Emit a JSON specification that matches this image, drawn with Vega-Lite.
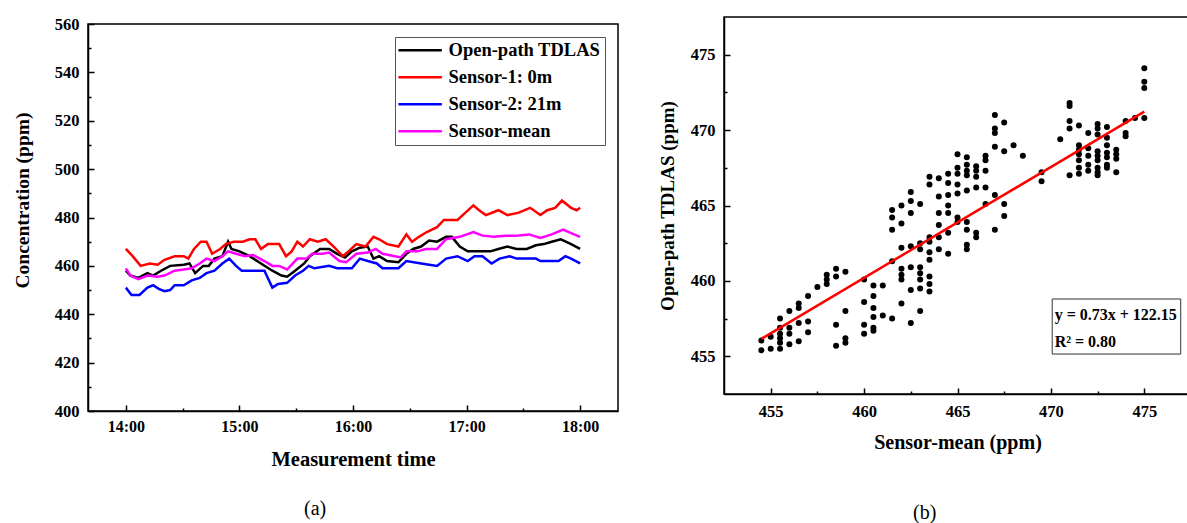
{
  "$schema": "https://vega.github.io/schema/vega-lite/v6.json",
  "background": "white",
  "padding": {"left": 11, "top": 15, "right": 0, "bottom": 0},
  "config": {
    "font": "Liberation Serif",
    "view": {"stroke": "black", "strokeWidth": 1.5},
    "axis": {
      "grid": false,
      "domainColor": "black", "domainWidth": 1.5,
      "tickColor": "black", "tickWidth": 1.5,
      "labelFont": "Liberation Serif", "labelFontWeight": "bold", "labelColor": "black",
      "titleFont": "Liberation Serif", "titleFontWeight": "bold", "titleColor": "black"
    }
  },
  "columns": 2,
  "align": "none",
  "spacing": 38,
  "resolve": {"legend": {"color": "independent"}, "scale": {"color": "independent"}},
  "concat": [
    {
      "spacing": -3,
      "resolve": {"legend": {"color": "independent"}},
      "vconcat": [
        {
          "width": 530,
          "height": 1,
          "view": {"fill": "white", "stroke": null},
          "data": {"values": []},
          "mark": {"type": "rect", "opacity": 0},
          "encoding": {}
        },
        {
          "width": 530,
          "height": 387,
          "title": {"text": "(a)", "orient": "bottom", "anchor": "middle", "frame": "bounds", "offset": 29, "fontSize": 20, "fontWeight": "normal", "font": "Liberation Serif", "color": "black"},
          "data": {"values": [
            {"series": "Open-path TDLAS", "hour": 14.00, "ppm": 458}, {"series": "Open-path TDLAS", "hour": 14.04, "ppm": 456},
            {"series": "Open-path TDLAS", "hour": 14.11, "ppm": 455}, {"series": "Open-path TDLAS", "hour": 14.19, "ppm": 457},
            {"series": "Open-path TDLAS", "hour": 14.24, "ppm": 456}, {"series": "Open-path TDLAS", "hour": 14.31, "ppm": 458},
            {"series": "Open-path TDLAS", "hour": 14.39, "ppm": 460}, {"series": "Open-path TDLAS", "hour": 14.51, "ppm": 460.5},
            {"series": "Open-path TDLAS", "hour": 14.56, "ppm": 461}, {"series": "Open-path TDLAS", "hour": 14.61, "ppm": 457},
            {"series": "Open-path TDLAS", "hour": 14.68, "ppm": 460}, {"series": "Open-path TDLAS", "hour": 14.73, "ppm": 460},
            {"series": "Open-path TDLAS", "hour": 14.78, "ppm": 463}, {"series": "Open-path TDLAS", "hour": 14.85, "ppm": 464},
            {"series": "Open-path TDLAS", "hour": 14.90, "ppm": 470}, {"series": "Open-path TDLAS", "hour": 14.93, "ppm": 467},
            {"series": "Open-path TDLAS", "hour": 15.00, "ppm": 466}, {"series": "Open-path TDLAS", "hour": 15.09, "ppm": 464},
            {"series": "Open-path TDLAS", "hour": 15.19, "ppm": 461}, {"series": "Open-path TDLAS", "hour": 15.29, "ppm": 458},
            {"series": "Open-path TDLAS", "hour": 15.37, "ppm": 456}, {"series": "Open-path TDLAS", "hour": 15.42, "ppm": 455.5},
            {"series": "Open-path TDLAS", "hour": 15.49, "ppm": 458}, {"series": "Open-path TDLAS", "hour": 15.57, "ppm": 461},
            {"series": "Open-path TDLAS", "hour": 15.62, "ppm": 464}, {"series": "Open-path TDLAS", "hour": 15.71, "ppm": 467},
            {"series": "Open-path TDLAS", "hour": 15.79, "ppm": 467}, {"series": "Open-path TDLAS", "hour": 15.86, "ppm": 465},
            {"series": "Open-path TDLAS", "hour": 15.93, "ppm": 463.5}, {"series": "Open-path TDLAS", "hour": 15.99, "ppm": 466},
            {"series": "Open-path TDLAS", "hour": 16.06, "ppm": 467.5}, {"series": "Open-path TDLAS", "hour": 16.13, "ppm": 468},
            {"series": "Open-path TDLAS", "hour": 16.18, "ppm": 463}, {"series": "Open-path TDLAS", "hour": 16.23, "ppm": 464},
            {"series": "Open-path TDLAS", "hour": 16.30, "ppm": 462}, {"series": "Open-path TDLAS", "hour": 16.40, "ppm": 461.5},
            {"series": "Open-path TDLAS", "hour": 16.47, "ppm": 465}, {"series": "Open-path TDLAS", "hour": 16.53, "ppm": 467},
            {"series": "Open-path TDLAS", "hour": 16.60, "ppm": 468}, {"series": "Open-path TDLAS", "hour": 16.67, "ppm": 470.5},
            {"series": "Open-path TDLAS", "hour": 16.74, "ppm": 470}, {"series": "Open-path TDLAS", "hour": 16.82, "ppm": 472},
            {"series": "Open-path TDLAS", "hour": 16.87, "ppm": 472}, {"series": "Open-path TDLAS", "hour": 16.94, "ppm": 468},
            {"series": "Open-path TDLAS", "hour": 17.01, "ppm": 466}, {"series": "Open-path TDLAS", "hour": 17.11, "ppm": 466},
            {"series": "Open-path TDLAS", "hour": 17.21, "ppm": 466}, {"series": "Open-path TDLAS", "hour": 17.28, "ppm": 467},
            {"series": "Open-path TDLAS", "hour": 17.36, "ppm": 468}, {"series": "Open-path TDLAS", "hour": 17.44, "ppm": 467},
            {"series": "Open-path TDLAS", "hour": 17.53, "ppm": 467}, {"series": "Open-path TDLAS", "hour": 17.61, "ppm": 468.5},
            {"series": "Open-path TDLAS", "hour": 17.68, "ppm": 469}, {"series": "Open-path TDLAS", "hour": 17.75, "ppm": 470},
            {"series": "Open-path TDLAS", "hour": 17.83, "ppm": 471}, {"series": "Open-path TDLAS", "hour": 17.92, "ppm": 469},
            {"series": "Open-path TDLAS", "hour": 18.00, "ppm": 467},

            {"series": "Sensor-1: 0m", "hour": 14.00, "ppm": 467}, {"series": "Sensor-1: 0m", "hour": 14.06, "ppm": 464},
            {"series": "Sensor-1: 0m", "hour": 14.13, "ppm": 460}, {"series": "Sensor-1: 0m", "hour": 14.21, "ppm": 461},
            {"series": "Sensor-1: 0m", "hour": 14.28, "ppm": 460.5}, {"series": "Sensor-1: 0m", "hour": 14.34, "ppm": 462.5},
            {"series": "Sensor-1: 0m", "hour": 14.43, "ppm": 464}, {"series": "Sensor-1: 0m", "hour": 14.51, "ppm": 464},
            {"series": "Sensor-1: 0m", "hour": 14.55, "ppm": 463}, {"series": "Sensor-1: 0m", "hour": 14.60, "ppm": 467},
            {"series": "Sensor-1: 0m", "hour": 14.66, "ppm": 470}, {"series": "Sensor-1: 0m", "hour": 14.71, "ppm": 470},
            {"series": "Sensor-1: 0m", "hour": 14.76, "ppm": 465}, {"series": "Sensor-1: 0m", "hour": 14.83, "ppm": 467},
            {"series": "Sensor-1: 0m", "hour": 14.88, "ppm": 469}, {"series": "Sensor-1: 0m", "hour": 14.95, "ppm": 470},
            {"series": "Sensor-1: 0m", "hour": 15.03, "ppm": 470}, {"series": "Sensor-1: 0m", "hour": 15.09, "ppm": 471},
            {"series": "Sensor-1: 0m", "hour": 15.14, "ppm": 471}, {"series": "Sensor-1: 0m", "hour": 15.19, "ppm": 467},
            {"series": "Sensor-1: 0m", "hour": 15.25, "ppm": 469}, {"series": "Sensor-1: 0m", "hour": 15.35, "ppm": 469},
            {"series": "Sensor-1: 0m", "hour": 15.41, "ppm": 464}, {"series": "Sensor-1: 0m", "hour": 15.46, "ppm": 466},
            {"series": "Sensor-1: 0m", "hour": 15.51, "ppm": 470}, {"series": "Sensor-1: 0m", "hour": 15.56, "ppm": 468},
            {"series": "Sensor-1: 0m", "hour": 15.62, "ppm": 471}, {"series": "Sensor-1: 0m", "hour": 15.69, "ppm": 470},
            {"series": "Sensor-1: 0m", "hour": 15.76, "ppm": 471}, {"series": "Sensor-1: 0m", "hour": 15.83, "ppm": 468},
            {"series": "Sensor-1: 0m", "hour": 15.91, "ppm": 464}, {"series": "Sensor-1: 0m", "hour": 15.96, "ppm": 466},
            {"series": "Sensor-1: 0m", "hour": 16.03, "ppm": 469}, {"series": "Sensor-1: 0m", "hour": 16.11, "ppm": 468},
            {"series": "Sensor-1: 0m", "hour": 16.18, "ppm": 472}, {"series": "Sensor-1: 0m", "hour": 16.23, "ppm": 471},
            {"series": "Sensor-1: 0m", "hour": 16.30, "ppm": 469}, {"series": "Sensor-1: 0m", "hour": 16.40, "ppm": 468},
            {"series": "Sensor-1: 0m", "hour": 16.47, "ppm": 473}, {"series": "Sensor-1: 0m", "hour": 16.52, "ppm": 470},
            {"series": "Sensor-1: 0m", "hour": 16.58, "ppm": 472}, {"series": "Sensor-1: 0m", "hour": 16.65, "ppm": 474},
            {"series": "Sensor-1: 0m", "hour": 16.74, "ppm": 476}, {"series": "Sensor-1: 0m", "hour": 16.80, "ppm": 479},
            {"series": "Sensor-1: 0m", "hour": 16.92, "ppm": 479}, {"series": "Sensor-1: 0m", "hour": 16.99, "ppm": 482},
            {"series": "Sensor-1: 0m", "hour": 17.06, "ppm": 485}, {"series": "Sensor-1: 0m", "hour": 17.11, "ppm": 483},
            {"series": "Sensor-1: 0m", "hour": 17.17, "ppm": 481}, {"series": "Sensor-1: 0m", "hour": 17.28, "ppm": 483},
            {"series": "Sensor-1: 0m", "hour": 17.36, "ppm": 481}, {"series": "Sensor-1: 0m", "hour": 17.46, "ppm": 482},
            {"series": "Sensor-1: 0m", "hour": 17.56, "ppm": 484}, {"series": "Sensor-1: 0m", "hour": 17.65, "ppm": 481},
            {"series": "Sensor-1: 0m", "hour": 17.71, "ppm": 483}, {"series": "Sensor-1: 0m", "hour": 17.78, "ppm": 484},
            {"series": "Sensor-1: 0m", "hour": 17.84, "ppm": 487}, {"series": "Sensor-1: 0m", "hour": 17.92, "ppm": 484},
            {"series": "Sensor-1: 0m", "hour": 17.97, "ppm": 483}, {"series": "Sensor-1: 0m", "hour": 18.00, "ppm": 484},

            {"series": "Sensor-2: 21m", "hour": 14.00, "ppm": 451}, {"series": "Sensor-2: 21m", "hour": 14.05, "ppm": 448},
            {"series": "Sensor-2: 21m", "hour": 14.12, "ppm": 448}, {"series": "Sensor-2: 21m", "hour": 14.19, "ppm": 451},
            {"series": "Sensor-2: 21m", "hour": 14.24, "ppm": 452}, {"series": "Sensor-2: 21m", "hour": 14.29, "ppm": 450.5},
            {"series": "Sensor-2: 21m", "hour": 14.34, "ppm": 449.5}, {"series": "Sensor-2: 21m", "hour": 14.39, "ppm": 450},
            {"series": "Sensor-2: 21m", "hour": 14.43, "ppm": 452}, {"series": "Sensor-2: 21m", "hour": 14.51, "ppm": 452},
            {"series": "Sensor-2: 21m", "hour": 14.58, "ppm": 454}, {"series": "Sensor-2: 21m", "hour": 14.65, "ppm": 455},
            {"series": "Sensor-2: 21m", "hour": 14.71, "ppm": 457}, {"series": "Sensor-2: 21m", "hour": 14.78, "ppm": 458},
            {"series": "Sensor-2: 21m", "hour": 14.85, "ppm": 461}, {"series": "Sensor-2: 21m", "hour": 14.91, "ppm": 463},
            {"series": "Sensor-2: 21m", "hour": 14.97, "ppm": 460}, {"series": "Sensor-2: 21m", "hour": 15.02, "ppm": 458},
            {"series": "Sensor-2: 21m", "hour": 15.09, "ppm": 458}, {"series": "Sensor-2: 21m", "hour": 15.22, "ppm": 458},
            {"series": "Sensor-2: 21m", "hour": 15.25, "ppm": 455}, {"series": "Sensor-2: 21m", "hour": 15.29, "ppm": 451},
            {"series": "Sensor-2: 21m", "hour": 15.34, "ppm": 452.5}, {"series": "Sensor-2: 21m", "hour": 15.42, "ppm": 453},
            {"series": "Sensor-2: 21m", "hour": 15.49, "ppm": 456}, {"series": "Sensor-2: 21m", "hour": 15.56, "ppm": 458},
            {"series": "Sensor-2: 21m", "hour": 15.61, "ppm": 460}, {"series": "Sensor-2: 21m", "hour": 15.66, "ppm": 459},
            {"series": "Sensor-2: 21m", "hour": 15.79, "ppm": 460}, {"series": "Sensor-2: 21m", "hour": 15.86, "ppm": 459},
            {"series": "Sensor-2: 21m", "hour": 15.99, "ppm": 459}, {"series": "Sensor-2: 21m", "hour": 16.06, "ppm": 463},
            {"series": "Sensor-2: 21m", "hour": 16.13, "ppm": 462}, {"series": "Sensor-2: 21m", "hour": 16.21, "ppm": 461},
            {"series": "Sensor-2: 21m", "hour": 16.26, "ppm": 459}, {"series": "Sensor-2: 21m", "hour": 16.40, "ppm": 459},
            {"series": "Sensor-2: 21m", "hour": 16.47, "ppm": 462}, {"series": "Sensor-2: 21m", "hour": 16.60, "ppm": 461},
            {"series": "Sensor-2: 21m", "hour": 16.74, "ppm": 460}, {"series": "Sensor-2: 21m", "hour": 16.82, "ppm": 463},
            {"series": "Sensor-2: 21m", "hour": 16.92, "ppm": 464}, {"series": "Sensor-2: 21m", "hour": 17.01, "ppm": 462},
            {"series": "Sensor-2: 21m", "hour": 17.07, "ppm": 464}, {"series": "Sensor-2: 21m", "hour": 17.14, "ppm": 464},
            {"series": "Sensor-2: 21m", "hour": 17.22, "ppm": 461}, {"series": "Sensor-2: 21m", "hour": 17.29, "ppm": 463},
            {"series": "Sensor-2: 21m", "hour": 17.38, "ppm": 464}, {"series": "Sensor-2: 21m", "hour": 17.44, "ppm": 463},
            {"series": "Sensor-2: 21m", "hour": 17.61, "ppm": 463}, {"series": "Sensor-2: 21m", "hour": 17.65, "ppm": 462},
            {"series": "Sensor-2: 21m", "hour": 17.81, "ppm": 462}, {"series": "Sensor-2: 21m", "hour": 17.87, "ppm": 464},
            {"series": "Sensor-2: 21m", "hour": 17.92, "ppm": 463}, {"series": "Sensor-2: 21m", "hour": 18.00, "ppm": 461},

            {"series": "Sensor-mean", "hour": 14.00, "ppm": 459}, {"series": "Sensor-mean", "hour": 14.04, "ppm": 456},
            {"series": "Sensor-mean", "hour": 14.11, "ppm": 454.5}, {"series": "Sensor-mean", "hour": 14.19, "ppm": 456},
            {"series": "Sensor-mean", "hour": 14.28, "ppm": 455.5}, {"series": "Sensor-mean", "hour": 14.34, "ppm": 456},
            {"series": "Sensor-mean", "hour": 14.43, "ppm": 458}, {"series": "Sensor-mean", "hour": 14.51, "ppm": 458.5},
            {"series": "Sensor-mean", "hour": 14.58, "ppm": 459}, {"series": "Sensor-mean", "hour": 14.65, "ppm": 461},
            {"series": "Sensor-mean", "hour": 14.71, "ppm": 463}, {"series": "Sensor-mean", "hour": 14.78, "ppm": 462},
            {"series": "Sensor-mean", "hour": 14.85, "ppm": 464}, {"series": "Sensor-mean", "hour": 14.90, "ppm": 466},
            {"series": "Sensor-mean", "hour": 14.97, "ppm": 465}, {"series": "Sensor-mean", "hour": 15.05, "ppm": 464},
            {"series": "Sensor-mean", "hour": 15.12, "ppm": 464.5}, {"series": "Sensor-mean", "hour": 15.22, "ppm": 462},
            {"series": "Sensor-mean", "hour": 15.29, "ppm": 460}, {"series": "Sensor-mean", "hour": 15.35, "ppm": 460},
            {"series": "Sensor-mean", "hour": 15.42, "ppm": 458.5}, {"series": "Sensor-mean", "hour": 15.51, "ppm": 463},
            {"series": "Sensor-mean", "hour": 15.59, "ppm": 463}, {"series": "Sensor-mean", "hour": 15.64, "ppm": 465},
            {"series": "Sensor-mean", "hour": 15.73, "ppm": 465}, {"series": "Sensor-mean", "hour": 15.79, "ppm": 465.5},
            {"series": "Sensor-mean", "hour": 15.88, "ppm": 462}, {"series": "Sensor-mean", "hour": 15.94, "ppm": 461.5},
            {"series": "Sensor-mean", "hour": 16.03, "ppm": 465}, {"series": "Sensor-mean", "hour": 16.13, "ppm": 465.5},
            {"series": "Sensor-mean", "hour": 16.20, "ppm": 467}, {"series": "Sensor-mean", "hour": 16.26, "ppm": 465},
            {"series": "Sensor-mean", "hour": 16.37, "ppm": 464}, {"series": "Sensor-mean", "hour": 16.42, "ppm": 463.5},
            {"series": "Sensor-mean", "hour": 16.47, "ppm": 466}, {"series": "Sensor-mean", "hour": 16.57, "ppm": 466},
            {"series": "Sensor-mean", "hour": 16.64, "ppm": 467}, {"series": "Sensor-mean", "hour": 16.74, "ppm": 467},
            {"series": "Sensor-mean", "hour": 16.82, "ppm": 471}, {"series": "Sensor-mean", "hour": 16.94, "ppm": 472},
            {"series": "Sensor-mean", "hour": 17.06, "ppm": 474}, {"series": "Sensor-mean", "hour": 17.14, "ppm": 472.5},
            {"series": "Sensor-mean", "hour": 17.24, "ppm": 472}, {"series": "Sensor-mean", "hour": 17.34, "ppm": 472.5},
            {"series": "Sensor-mean", "hour": 17.44, "ppm": 472.5}, {"series": "Sensor-mean", "hour": 17.55, "ppm": 473},
            {"series": "Sensor-mean", "hour": 17.65, "ppm": 471.5}, {"series": "Sensor-mean", "hour": 17.75, "ppm": 473},
            {"series": "Sensor-mean", "hour": 17.85, "ppm": 475}, {"series": "Sensor-mean", "hour": 17.92, "ppm": 473.5},
            {"series": "Sensor-mean", "hour": 18.00, "ppm": 472}
          ]},
          "mark": {"type": "line", "strokeWidth": 2.5},
          "encoding": {
            "x": {
              "field": "hour", "type": "quantitative",
              "scale": {"domain": [13.6667, 18.3333], "nice": false, "zero": false},
              "axis": {
                "title": "Measurement time", "titleFontSize": 20.5, "titlePadding": 15,
                "values": [14, 14.5, 15, 15.5, 16, 16.5, 17, 17.5, 18],
                "labelExpr": "datum.value % 1 == 0 ? format(datum.value, 'd') + ':00' : ''",
                "labelFontSize": 16, "labelPadding": 13,
                "tickSize": {"condition": {"test": "datum.value % 1 != 0", "value": -3}, "value": -6}
              }
            },
            "y": {
              "field": "ppm", "type": "quantitative",
              "scale": {"domain": [400, 560], "nice": false, "zero": false},
              "axis": {
                "title": "Concentration (ppm)", "titleFontSize": 19.5, "titlePadding": 22, "titleY": 176,
                "values": [400, 410, 420, 430, 440, 450, 460, 470, 480, 490, 500, 510, 520, 530, 540, 550, 560],
                "labelExpr": "datum.value % 20 == 0 ? datum.label : ''",
                "labelFontSize": 16.5, "labelPadding": 15,
                "tickSize": {"condition": {"test": "datum.value % 20 != 0", "value": -3}, "value": -6}
              }
            },
            "color": {
              "field": "series", "type": "nominal",
              "scale": {
                "domain": ["Open-path TDLAS", "Sensor-1: 0m", "Sensor-2: 21m", "Sensor-mean"],
                "range": ["#000000", "#ff0000", "#0000ff", "#ff00ff"]
              },
              "legend": {
                "title": null, "orient": "top-right", "offset": 13,
                "strokeColor": "#555555", "fillColor": "white", "padding": 4,
                "labelFont": "Liberation Serif", "labelFontWeight": "bold", "labelFontSize": 18.5, "labelColor": "black",
                "symbolType": "M-1.4,0H4.8", "symbolSize": 196, "symbolStrokeWidth": 2.5,
                "labelOffset": 31, "rowPadding": 8
              }
            }
          }
        }
      ]
    },
    {
      "width": 467,
      "height": 377,
      "title": {"text": "(b)", "orient": "bottom", "anchor": "middle", "frame": "bounds", "offset": 50, "fontSize": 20, "fontWeight": "normal", "font": "Liberation Serif", "color": "black"},
      "layer": [
        {
          "data": {"values": [
            {"mean": 454.5, "tdlas": 456.05}, {"mean": 454.5, "tdlas": 455.4},
            {"mean": 455, "tdlas": 456.3}, {"mean": 455, "tdlas": 455.5},
            {"mean": 455.5, "tdlas": 457.5}, {"mean": 455.5, "tdlas": 456.9}, {"mean": 455.5, "tdlas": 456.5}, {"mean": 455.5, "tdlas": 456.2}, {"mean": 455.5, "tdlas": 455.9}, {"mean": 455.5, "tdlas": 455.5},
            {"mean": 456, "tdlas": 458.0}, {"mean": 456, "tdlas": 456.9}, {"mean": 456, "tdlas": 456.5}, {"mean": 456, "tdlas": 455.8},
            {"mean": 456.5, "tdlas": 458.5}, {"mean": 456.5, "tdlas": 458.2}, {"mean": 456.5, "tdlas": 457.2}, {"mean": 456.5, "tdlas": 456.0},
            {"mean": 457, "tdlas": 459.0}, {"mean": 457, "tdlas": 457.3}, {"mean": 457, "tdlas": 456.6},
            {"mean": 457.5, "tdlas": 459.6},
            {"mean": 458, "tdlas": 460.4}, {"mean": 458, "tdlas": 460.1}, {"mean": 458, "tdlas": 459.8},
            {"mean": 458.5, "tdlas": 460.8}, {"mean": 458.5, "tdlas": 460.3}, {"mean": 458.5, "tdlas": 457.1}, {"mean": 458.5, "tdlas": 455.7},
            {"mean": 459, "tdlas": 460.6}, {"mean": 459, "tdlas": 458.0}, {"mean": 459, "tdlas": 456.2}, {"mean": 459, "tdlas": 455.9},
            {"mean": 460, "tdlas": 460.1}, {"mean": 460, "tdlas": 458.6}, {"mean": 460, "tdlas": 457.1}, {"mean": 460, "tdlas": 456.5},
            {"mean": 460.5, "tdlas": 459.7}, {"mean": 460.5, "tdlas": 459.0}, {"mean": 460.5, "tdlas": 458.2}, {"mean": 460.5, "tdlas": 457.6}, {"mean": 460.5, "tdlas": 456.9}, {"mean": 460.5, "tdlas": 456.7},
            {"mean": 461, "tdlas": 459.7}, {"mean": 461, "tdlas": 457.7},
            {"mean": 461.5, "tdlas": 464.7}, {"mean": 461.5, "tdlas": 464.2}, {"mean": 461.5, "tdlas": 463.4}, {"mean": 461.5, "tdlas": 461.3}, {"mean": 461.5, "tdlas": 457.5},
            {"mean": 462, "tdlas": 465.0}, {"mean": 462, "tdlas": 463.8}, {"mean": 462, "tdlas": 462.2}, {"mean": 462, "tdlas": 460.8}, {"mean": 462, "tdlas": 460.4}, {"mean": 462, "tdlas": 460.1}, {"mean": 462, "tdlas": 458.5},
            {"mean": 462.5, "tdlas": 465.9}, {"mean": 462.5, "tdlas": 465.3}, {"mean": 462.5, "tdlas": 464.5}, {"mean": 462.5, "tdlas": 462.3}, {"mean": 462.5, "tdlas": 460.9}, {"mean": 462.5, "tdlas": 459.4}, {"mean": 462.5, "tdlas": 457.2},
            {"mean": 463, "tdlas": 465.1}, {"mean": 463, "tdlas": 462.5}, {"mean": 463, "tdlas": 462.1}, {"mean": 463, "tdlas": 460.9}, {"mean": 463, "tdlas": 460.5}, {"mean": 463, "tdlas": 460.1}, {"mean": 463, "tdlas": 459.5}, {"mean": 463, "tdlas": 458.0},
            {"mean": 463.5, "tdlas": 466.9}, {"mean": 463.5, "tdlas": 466.4}, {"mean": 463.5, "tdlas": 462.9}, {"mean": 463.5, "tdlas": 462.6}, {"mean": 463.5, "tdlas": 461.9}, {"mean": 463.5, "tdlas": 461.4}, {"mean": 463.5, "tdlas": 460.3}, {"mean": 463.5, "tdlas": 459.8}, {"mean": 463.5, "tdlas": 459.3},
            {"mean": 464, "tdlas": 466.8}, {"mean": 464, "tdlas": 465.6}, {"mean": 464, "tdlas": 464.5}, {"mean": 464, "tdlas": 463.7}, {"mean": 464, "tdlas": 462.9}, {"mean": 464, "tdlas": 462.1},
            {"mean": 464.5, "tdlas": 467.1}, {"mean": 464.5, "tdlas": 466.5}, {"mean": 464.5, "tdlas": 465.7}, {"mean": 464.5, "tdlas": 465.0}, {"mean": 464.5, "tdlas": 464.5}, {"mean": 464.5, "tdlas": 463.2}, {"mean": 464.5, "tdlas": 461.8},
            {"mean": 465, "tdlas": 468.4}, {"mean": 465, "tdlas": 467.5}, {"mean": 465, "tdlas": 467.1}, {"mean": 465, "tdlas": 466.4}, {"mean": 465, "tdlas": 465.8}, {"mean": 465, "tdlas": 464.2}, {"mean": 465, "tdlas": 463.9},
            {"mean": 465.5, "tdlas": 468.2}, {"mean": 465.5, "tdlas": 467.7}, {"mean": 465.5, "tdlas": 467.3}, {"mean": 465.5, "tdlas": 467.0}, {"mean": 465.5, "tdlas": 466.0}, {"mean": 465.5, "tdlas": 463.9}, {"mean": 465.5, "tdlas": 463.4}, {"mean": 465.5, "tdlas": 462.4}, {"mean": 465.5, "tdlas": 462.1},
            {"mean": 466, "tdlas": 467.6}, {"mean": 466, "tdlas": 467.3}, {"mean": 466, "tdlas": 466.9}, {"mean": 466, "tdlas": 466.2}, {"mean": 466, "tdlas": 463.2}, {"mean": 466, "tdlas": 462.9},
            {"mean": 466.5, "tdlas": 468.3}, {"mean": 466.5, "tdlas": 468.0}, {"mean": 466.5, "tdlas": 467.3}, {"mean": 466.5, "tdlas": 466.2}, {"mean": 466.5, "tdlas": 465.1},
            {"mean": 467, "tdlas": 471.0}, {"mean": 467, "tdlas": 470.1}, {"mean": 467, "tdlas": 469.8}, {"mean": 467, "tdlas": 468.9}, {"mean": 467, "tdlas": 465.7}, {"mean": 467, "tdlas": 463.4},
            {"mean": 467.5, "tdlas": 470.5}, {"mean": 467.5, "tdlas": 468.6}, {"mean": 467.5, "tdlas": 465.1}, {"mean": 467.5, "tdlas": 464.3},
            {"mean": 468, "tdlas": 469.0},
            {"mean": 468.5, "tdlas": 468.3},
            {"mean": 469.5, "tdlas": 467.2}, {"mean": 469.5, "tdlas": 466.6},
            {"mean": 470.5, "tdlas": 469.4},
            {"mean": 471, "tdlas": 471.8}, {"mean": 471, "tdlas": 471.6}, {"mean": 471, "tdlas": 470.6}, {"mean": 471, "tdlas": 470.1}, {"mean": 471, "tdlas": 467.0},
            {"mean": 471.5, "tdlas": 470.3}, {"mean": 471.5, "tdlas": 469.0}, {"mean": 471.5, "tdlas": 468.7}, {"mean": 471.5, "tdlas": 468.4}, {"mean": 471.5, "tdlas": 468.0}, {"mean": 471.5, "tdlas": 467.5}, {"mean": 471.5, "tdlas": 467.1},
            {"mean": 472, "tdlas": 469.8}, {"mean": 472, "tdlas": 468.8}, {"mean": 472, "tdlas": 468.3}, {"mean": 472, "tdlas": 467.7}, {"mean": 472, "tdlas": 467.3},
            {"mean": 472.5, "tdlas": 470.4}, {"mean": 472.5, "tdlas": 470.1}, {"mean": 472.5, "tdlas": 469.7}, {"mean": 472.5, "tdlas": 468.6}, {"mean": 472.5, "tdlas": 468.3}, {"mean": 472.5, "tdlas": 468.0}, {"mean": 472.5, "tdlas": 467.5}, {"mean": 472.5, "tdlas": 467.2}, {"mean": 472.5, "tdlas": 467.0},
            {"mean": 473, "tdlas": 470.2}, {"mean": 473, "tdlas": 469.5}, {"mean": 473, "tdlas": 469.0}, {"mean": 473, "tdlas": 468.5}, {"mean": 473, "tdlas": 468.2}, {"mean": 473, "tdlas": 467.7}, {"mean": 473, "tdlas": 467.5},
            {"mean": 473.5, "tdlas": 468.7}, {"mean": 473.5, "tdlas": 468.4}, {"mean": 473.5, "tdlas": 468.1}, {"mean": 473.5, "tdlas": 467.2},
            {"mean": 474, "tdlas": 470.6}, {"mean": 474, "tdlas": 469.8}, {"mean": 474, "tdlas": 469.6},
            {"mean": 474.5, "tdlas": 470.8},
            {"mean": 475, "tdlas": 474.1}, {"mean": 475, "tdlas": 473.2}, {"mean": 475, "tdlas": 472.8}, {"mean": 475, "tdlas": 470.8}
          ]},
          "mark": {"type": "circle", "size": 36, "color": "black", "opacity": 1},
          "encoding": {
            "x": {
              "field": "mean", "type": "quantitative",
              "scale": {"domain": [452.5, 477.5], "nice": false, "zero": false},
              "axis": {
                "title": "Sensor-mean (ppm)", "titleFontSize": 20, "titlePadding": 13,
                "values": [455, 457.5, 460, 462.5, 465, 467.5, 470, 472.5, 475],
                "labelExpr": "datum.value % 5 == 0 ? datum.label : ''",
                "labelFontSize": 16.5, "labelPadding": 15,
                "tickSize": {"condition": {"test": "datum.value % 5 != 0", "value": -3}, "value": -6}
              }
            },
            "y": {
              "field": "tdlas", "type": "quantitative",
              "scale": {"domain": [452.5, 477.5], "nice": false, "zero": false},
              "axis": {
                "title": "Open-path TDLAS (ppm)", "titleFontSize": 19, "titlePadding": 13,
                "values": [455, 457.5, 460, 462.5, 465, 467.5, 470, 472.5, 475],
                "labelExpr": "datum.value % 5 == 0 ? datum.label : ''",
                "labelFontSize": 16.5, "labelPadding": 15,
                "tickSize": {"condition": {"test": "datum.value % 5 != 0", "value": -3}, "value": -6}
              }
            }
          }
        },
        {
          "data": {"values": [
            {"mean": 454.5, "tdlas": 456.16},
            {"mean": 475, "tdlas": 471.23}
          ]},
          "mark": {"type": "line", "color": "#ff0000", "strokeWidth": 2.5},
          "encoding": {
            "x": {"field": "mean", "type": "quantitative"},
            "y": {"field": "tdlas", "type": "quantitative"}
          }
        },
        {
          "data": {"values": [
            {"left": 470.07, "right": 476.95, "top": 458.8, "bottom": 455.15}
          ]},
          "mark": {"type": "rect", "fill": "white", "stroke": "#333333", "strokeWidth": 1},
          "encoding": {
            "x": {"field": "left", "type": "quantitative"},
            "x2": {"field": "right"},
            "y": {"field": "top", "type": "quantitative"},
            "y2": {"field": "bottom"}
          }
        },
        {
          "data": {"values": [
            {"mean": 470.2, "tdlas": 457.75, "label": "y = 0.73x + 122.15"},
            {"mean": 470.2, "tdlas": 455.95, "label": "R² = 0.80"}
          ]},
          "mark": {"type": "text", "align": "left", "baseline": "middle", "font": "Liberation Serif", "fontSize": 16, "fontWeight": "bold", "color": "black"},
          "encoding": {
            "x": {"field": "mean", "type": "quantitative"},
            "y": {"field": "tdlas", "type": "quantitative"},
            "text": {"field": "label"}
          }
        }
      ]
    }
  ]
}
